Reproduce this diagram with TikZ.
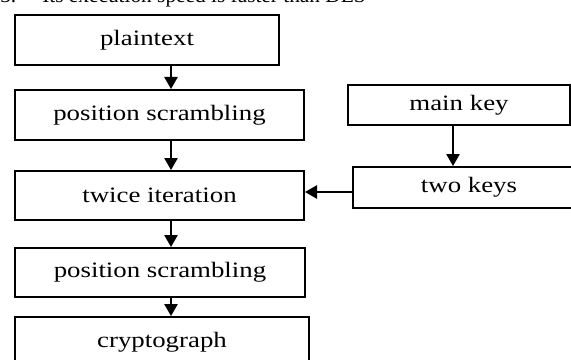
\documentclass[tikz,border=0pt]{standalone}
\usepackage{fontspec}
\setmainfont{Liberation Serif}
\usetikzlibrary{arrows.meta}
\newcommand{\wide}[1]{\scalebox{1.22}[1]{#1}}
\tikzset{
  box/.style={draw, line width=1.5pt, anchor=north west, inner sep=0pt,
    font=\fontsize{16.5}{20}\selectfont},
  arr/.style={line width=1.2pt, -{Triangle[width=10pt,length=9pt]}}
}
\begin{document}
\begin{tikzpicture}[x=0.75pt, y=-0.75pt]
    % marco de la imagen
    \useasboundingbox (0,0) rectangle (571,360);
    \clip (0,0) rectangle (571,360);

    % texto cortado arriba
    \node[anchor=base west, inner sep=0pt, font=\fontsize{16}{19}\selectfont] (num) at (0,3) {3.};
    \node[anchor=base west, inner sep=0pt, font=\fontsize{16}{19}\selectfont] (speed) at (42,3) {Its execution speed is faster than DES};

    % cajas de la izquierda
    \node[box, minimum width=198pt, minimum height=37.5pt] (plain) at (14,14) {\wide{plaintext}};
    \node[box, minimum width=216.75pt, minimum height=37.5pt] (pos1) at (14,89) {\wide{position scrambling}};
    \node[box, minimum width=216.75pt, minimum height=36.75pt] (twice) at (14,170) {\wide{twice iteration}};
    \node[box, minimum width=217.5pt, minimum height=36.75pt] (pos2) at (14,247) {\wide{position scrambling}};
    \node[box, minimum width=220.5pt, minimum height=37.5pt] (crypt) at (14,316) {\wide{cryptograph}};

    % cajas de la derecha
    \node[box, minimum width=166.5pt, minimum height=30pt] (main) at (347,84) {\wide{main key}};
    \node[box, minimum width=174pt, minimum height=30.75pt] (two) at (352,166) {\wide{two keys}};

    % flechas
    \coordinate (axis) at (171,0);
    \coordinate (keyaxis) at (453,0);
    \draw[arr] (plain.south -| axis) -- (pos1.north -| axis);
    \draw[arr] (pos1.south -| axis) -- (twice.north -| axis);
    \draw[arr] (twice.south -| axis) -- (pos2.north -| axis);
    \draw[arr] (pos2.south -| axis) -- (crypt.north -| axis);
    \draw[arr] (main.south -| keyaxis) -- (two.north -| keyaxis);
    \draw[arr] (two.west |- 0,192) -- (twice.east |- 0,192);
\end{tikzpicture}
\end{document}
